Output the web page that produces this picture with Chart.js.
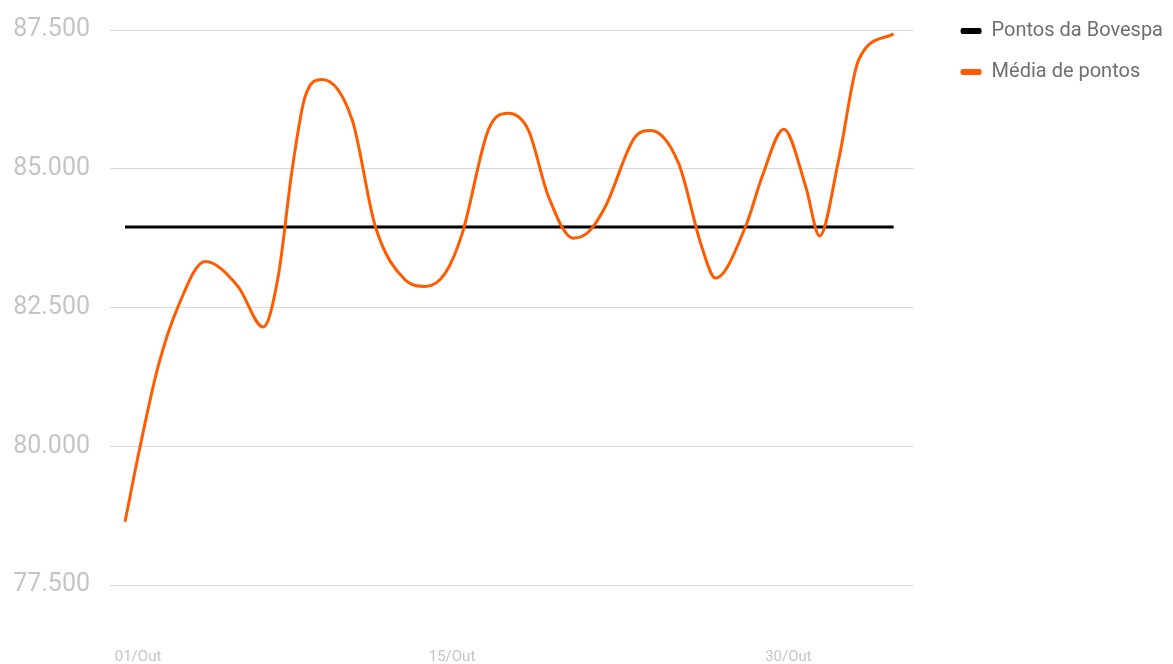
<!DOCTYPE html>
<html>
<head>
<meta charset="utf-8">
<script src="https://cdn.jsdelivr.net/npm/chart.js@4/dist/chart.umd.min.js"></script>
<style>
  body { margin: 0; background: #fff; }
  #wrap { width: 1173px; height: 664px; }
</style>
</head>
<body>
<div id="wrap"><canvas id="myChart"></canvas></div>
<script>
// dias de outubro (posição no eixo) e média de pontos
const mediaDias = [0.42, 1.09, 1.89, 2.78, 3.99, 5.46, 6.58, 7.25, 7.87, 8.45, 9.21, 10.55, 11.58,
    12.91, 13.81, 14.70, 15.46, 16.62, 17.51, 18.40, 19.30, 20.41, 21.08, 21.84, 23.18, 23.85,
    25.10, 26.13, 26.75, 28.09, 28.83, 29.79, 30.77, 31.39, 32.24, 33.13, 34.69];
const mediaPontos = [78640, 79990, 81430, 82510, 83330, 82880, 82150, 83060, 84980, 86300, 86610, 85880, 83960,
    83000, 82880, 83120, 83840, 85700, 86000, 85700, 84500, 83750, 83860, 84320, 85580, 85690,
    85100, 83600, 83030, 83960, 84860, 85710, 84680, 83790, 85160, 86960, 87430];

const bovespaDias = [0.42, 34.69];
const bovespaPontos = [83950, 83950];

const tickDias = [1, 15, 30];
const tickLabels = ['01/Out', '15/Out', '30/Out'];

function pontosMil(v) {
    return String(v).replace(/\B(?=(\d{3})+(?!\d))/g, '.');
}

const ctx = document.getElementById('myChart');

new Chart(ctx, {
    type: 'line',
    data: {
        datasets: [{
            label: 'Média de pontos',
            data: mediaDias.map((d, i) => ({x: d, y: mediaPontos[i]})),
            borderColor: '#ff5b00',
            backgroundColor: '#ff5b00',
            borderWidth: 3,
            pointRadius: 0,
            cubicInterpolationMode: 'monotone'
        }, {
            label: 'Pontos da Bovespa',
            data: bovespaDias.map((d, i) => ({x: d, y: bovespaPontos[i]})),
            borderColor: '#000000',
            backgroundColor: '#000000',
            borderWidth: 3,
            pointRadius: 0
        }]
    },
    options: {
        responsive: true,
        maintainAspectRatio: false,
        animation: false,
        // a margem esquerda negativa só aumenta o espaço que a legenda pode ocupar
        layout: { padding: { left: -300, right: 0, top: 0, bottom: 0 } },
        plugins: {
            tooltip: { enabled: false },
            legend: {
                position: 'right',
                align: 'start',
                labels: {
                    boxWidth: 21,
                    boxHeight: 6,
                    padding: 21,
                    useBorderRadius: true,
                    borderRadius: 2,
                    color: '#6f6f6f',
                    font: { size: 20, family: "Roboto, 'Noto Sans', sans-serif" },
                    sort: (a, b) => b.datasetIndex - a.datasetIndex,
                    generateLabels: chart => Chart.defaults.plugins.legend.labels.generateLabels(chart)
                        .map(l => Object.assign(l, { lineWidth: 0 }))
                }
            }
        },
        scales: {
            x: {
                type: 'linear',
                position: 'bottom',
                min: -0.25,
                max: 35.58,
                grid: { display: false, drawTicks: false },
                border: { display: false },
                afterBuildTicks: axis => { axis.ticks = tickDias.map(v => ({ value: v })); },
                afterFit: axis => { axis.height = 79; },
                ticks: {
                    autoSkip: false,
                    maxRotation: 0,
                    padding: 63,
                    color: '#c4c4c4',
                    font: { size: 15, family: "Roboto, sans-serif" },
                    callback: v => tickLabels[tickDias.indexOf(v)]
                }
            },
            xTopo: {
                type: 'linear',
                axis: 'x',
                position: 'top',
                grid: { display: false, drawTicks: false },
                border: { display: false },
                ticks: { display: false },
                afterFit: axis => { axis.height = 30; }
            },
            y: {
                min: 77500,
                max: 87500,
                grid: { color: '#dadada', lineWidth: 1, drawTicks: true, tickLength: 20, tickColor: 'rgba(0,0,0,0)' },
                border: { display: false },
                afterFit: axis => { axis.width = 410; },
                ticks: {
                    stepSize: 2500,
                    padding: 0,
                    color: '#c4c4c4',
                    font: { size: 25, family: "Roboto, sans-serif" },
                    callback: v => pontosMil(v)
                }
            },
            yDireita: {
                type: 'linear',
                axis: 'y',
                position: 'right',
                grid: { display: false, drawTicks: false },
                border: { display: false },
                ticks: { display: false },
                afterFit: axis => { axis.width = 26; }
            }
        }
    }
});
</script>
</body>
</html>
